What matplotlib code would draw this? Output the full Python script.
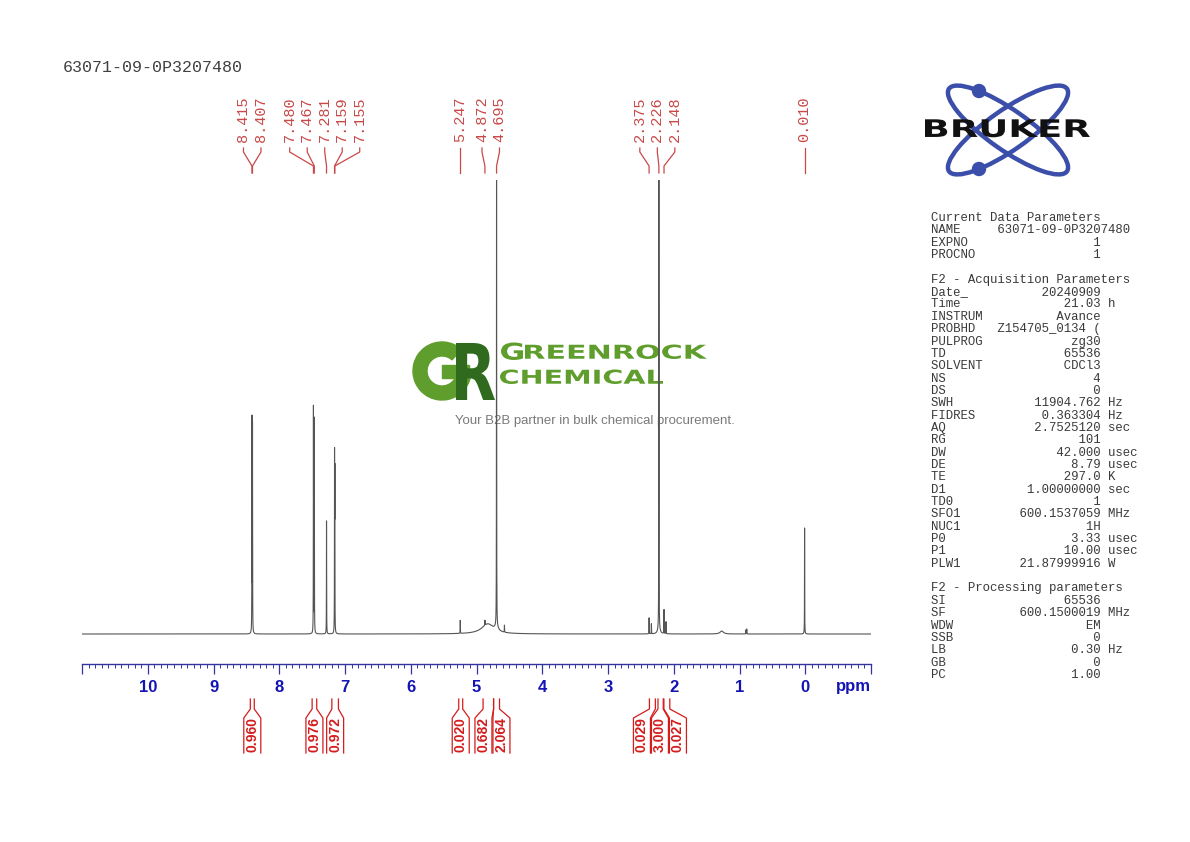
import numpy as np
import matplotlib
matplotlib.use("Agg")
import matplotlib.pyplot as plt
from matplotlib.patches import Ellipse, Circle, Wedge, Rectangle, PathPatch
from matplotlib.textpath import TextPath
from matplotlib.font_manager import FontProperties
from matplotlib.transforms import Affine2D
from matplotlib.ticker import MultipleLocator

W, H = 1190, 842

sample_name = "63071-09-0P3207480"

# sharp lines: position (ppm), height (baseline units), half width (ppm)
line_ppm = [8.415, 8.407, 7.480, 7.467, 7.281, 7.159, 7.155, 5.247, 4.872,
            4.695, 4.575, 2.375, 2.340, 2.226, 2.148, 2.117, 0.905, 0.890, 0.010]
line_height = [212, 205, 226, 214, 113, 168, 150, 13, 5,
               470, 7, 16, 10, 470, 24, 12, 4, 5, 106]
line_hwhm = [0.0015] * len(line_ppm)

# broad humps under the sharp lines
hump_ppm = [4.83, 4.695, 2.226, 1.270]
hump_height = [10.0, 4.0, 5.0, 3.0]
hump_hwhm = [0.11, 0.03, 0.02, 0.03]

peak_labels = [8.415, 8.407, 7.480, 7.467, 7.281, 7.159, 7.155,
               5.247, 4.872, 4.695, 2.375, 2.226, 2.148, 0.010]

integ_from = [8.44, 7.50, 7.20, 5.27, 4.90, 4.74, 2.37, 2.24, 2.15]
integ_to = [8.38, 7.43, 7.10, 5.21, 4.74, 4.65, 2.28, 2.16, 2.06]
integ_val = ["0.960", "0.976", "0.972", "0.020", "0.682", "2.064",
             "0.029", "3.000", "0.027"]

tick_ppm = list(range(-1, 12))
tick_text = ["" if t in (-1, 11) else str(t) for t in tick_ppm]

params = [
    ("Current Data Parameters", None, None),
    ("NAME", sample_name, None),
    ("EXPNO", "1", None),
    ("PROCNO", "1", None),
    ("", None, None),
    ("F2 - Acquisition Parameters", None, None),
    ("Date_", "20240909", None),
    ("Time", "21.03", "h"),
    ("INSTRUM", "Avance", None),
    ("PROBHD", "Z154705_0134 (", None),
    ("PULPROG", "zg30", None),
    ("TD", "65536", None),
    ("SOLVENT", "CDCl3", None),
    ("NS", "4", None),
    ("DS", "0", None),
    ("SWH", "11904.762", "Hz"),
    ("FIDRES", "0.363304", "Hz"),
    ("AQ", "2.7525120", "sec"),
    ("RG", "101", None),
    ("DW", "42.000", "usec"),
    ("DE", "8.79", "usec"),
    ("TE", "297.0", "K"),
    ("D1", "1.00000000", "sec"),
    ("TD0", "1", None),
    ("SFO1", "600.1537059", "MHz"),
    ("NUC1", "1H", None),
    ("P0", "3.33", "usec"),
    ("P1", "10.00", "usec"),
    ("PLW1", "21.87999916", "W"),
    ("", None, None),
    ("F2 - Processing parameters", None, None),
    ("SI", "65536", None),
    ("SF", "600.1500019", "MHz"),
    ("WDW", "EM", None),
    ("SSB", "0", None),
    ("LB", "0.30", "Hz"),
    ("GB", "0", None),
    ("PC", "1.00", None),
]

MONO = ["Liberation Mono", "DejaVu Sans Mono"]
SANS = ["Liberation Sans", "DejaVu Sans"]
PEAK_RED = "#c94848"
INT_RED = "#d41c1c"
AXIS_BLUE = "#1414b4"
RULER = "#3434a0"


def spread(xs, gap):
    """push label positions apart, keeping groups centred"""
    groups = [[x] for x in xs]

    def pos(g):
        c = np.mean(g)
        return [c + gap * (i - (len(g) - 1) / 2) for i in range(len(g))]

    merged = True
    while merged:
        merged = False
        for i in range(len(groups) - 1):
            if pos(groups[i])[-1] + gap > pos(groups[i + 1])[0]:
                groups[i] = groups[i] + groups.pop(i + 1)
                merged = True
                break
    return [p for g in groups for p in pos(g)]


def path_text(axo, s, x0, y_base, width, height, color, weight="bold",
              family="DejaVu Sans", z=2):
    tp = TextPath((0, 0), s, size=100, prop=FontProperties(family=family, weight=weight))
    ext = tp.get_extents()
    tr = (Affine2D().translate(-ext.x0, -ext.y0)
          .scale(width / ext.width, -height / ext.height)
          .translate(x0, y_base))
    axo.add_patch(PathPatch(tr.transform_path(tp), facecolor=color,
                            edgecolor="none", zorder=z))


fig = plt.figure(figsize=(W / 100, H / 100), dpi=100)
ov = fig.add_axes([0, 0, 1, 1], zorder=0)
ov.set_xlim(0, W)
ov.set_ylim(H, 0)
ov.axis("off")

ax = fig.add_axes([82 / W, (H - 664) / H, (871 - 82) / W, (664 - 180) / H], zorder=1)
ax.set_facecolor("none")

# spectrum
ppm = np.linspace(11.0, -1.0, 48001)
spec = np.zeros_like(ppm)
for c, h, w in zip(line_ppm + hump_ppm, line_height + hump_height, line_hwhm + hump_hwhm):
    spec += h * w ** 2 / ((ppm - c) ** 2 + w ** 2)
ax.plot(ppm, spec, color="#555555", lw=0.8)
ax.set_xlim(11.0, -1.0)
ax.set_ylim(-30, 454)

for s in ["top", "left", "right"]:
    ax.spines[s].set_visible(False)
ax.spines["bottom"].set_color(RULER)
ax.spines["bottom"].set_linewidth(1.0)
ax.set_yticks([])
ax.set_xticks(tick_ppm)
ax.set_xticklabels(tick_text)
ax.xaxis.set_minor_locator(MultipleLocator(0.1))
ax.tick_params(axis="x", which="major", direction="out", length=7, width=0.9,
               color=RULER, pad=4.5, labelcolor=AXIS_BLUE, labelsize=12)
ax.tick_params(axis="x", which="minor", direction="out", length=3, width=0.7,
               color=RULER)
for lab in ax.get_xticklabels():
    lab.set_fontfamily(SANS)
    lab.set_fontweight("bold")
ov.text(871, 686, "ppm", ha="right", va="center", color=AXIS_BLUE,
        fontsize=12, fontweight="bold", family=SANS)


def ppm_px(p):
    return ax.transData.transform((p, 0))[0]


# peak labels with connectors
peak_px = [ppm_px(p) for p in peak_labels]
label_px = spread(peak_px, 17.5)
for p, px, lx in zip(peak_labels, peak_px, label_px):
    ov.text(lx, 142, f"{p:.3f}", rotation=90, ha="center", va="bottom",
            color=PEAK_RED, fontsize=11, family=MONO)
    ov.plot([lx, lx, px, px], [148, 152, 166, 173], color=PEAK_RED, lw=0.9)

# integrals
x1 = [ppm_px(p) for p in integ_from]
x2 = [ppm_px(p) for p in integ_to]
box_px = spread([(a + b) / 2 for a, b in zip(x1, x2)], 18)
for a, b, cx, val in zip(x1, x2, box_px, integ_val):
    for edge, side in ((a, -1), (b, 1)):
        ov.plot([edge, edge, cx + side * 8.5, cx + side * 8.5],
                [699, 709, 718, 753], color=INT_RED, lw=0.9)
    ov.text(cx, 735, val, rotation=90, ha="center", va="center", color=INT_RED,
            fontsize=10, fontweight="bold", family=SANS)

# title
ov.text(63, 68, sample_name, ha="left", va="center", color="#404040",
        fontsize=12, family=MONO)

# acquisition / processing parameters
for i, (name, val, unit) in enumerate(params):
    if val is None:
        line = name
    else:
        line = f"{name:<9}{val:>14}"
        if unit:
            line += " " + unit
    ov.text(931, 218 + i * 12.35, line, ha="left", va="center",
            color="#3a3a3a", fontsize=8.9, family=MONO)

# Bruker logo
blue = "#3a4eaa"
for ang in (35, -35):
    ov.add_patch(Ellipse((1008, 130), 144, 40, angle=ang, fill=False,
                         edgecolor=blue, lw=3.2, zorder=2))
for cy in (91, 169):
    ov.add_patch(Circle((979, cy), 6.5, color=blue, zorder=3))
path_text(ov, "BRUKER", 925, 137.3, 165, 18, "#111111", z=4)

# Greenrock watermark (under the spectrum)
g_light = "#5f9e2d"
g_dark = "#2f6a1f"
ov.add_patch(Wedge((442, 371), 29, 0, 312, width=14, color=g_light, zorder=1))
ov.add_patch(Rectangle((442, 365), 27, 13, color=g_light, zorder=1))
path_text(ov, "R", 456, 400, 39, 57, g_dark, z=1.5)
path_text(ov, "G", 501, 360, 22, 17.5, g_light, z=1)
path_text(ov, "REENROCK", 525, 359, 182, 14.5, g_light, z=1)
path_text(ov, "CHEMICAL", 500, 384, 163, 14.5, g_light, z=1)
ov.text(594.5, 421, "Your B2B partner in bulk chemical procurement.", ha="center",
        va="center", color="#7a7a7a", fontsize=9.5, family=SANS)

fig.savefig("out.png", dpi=100)
